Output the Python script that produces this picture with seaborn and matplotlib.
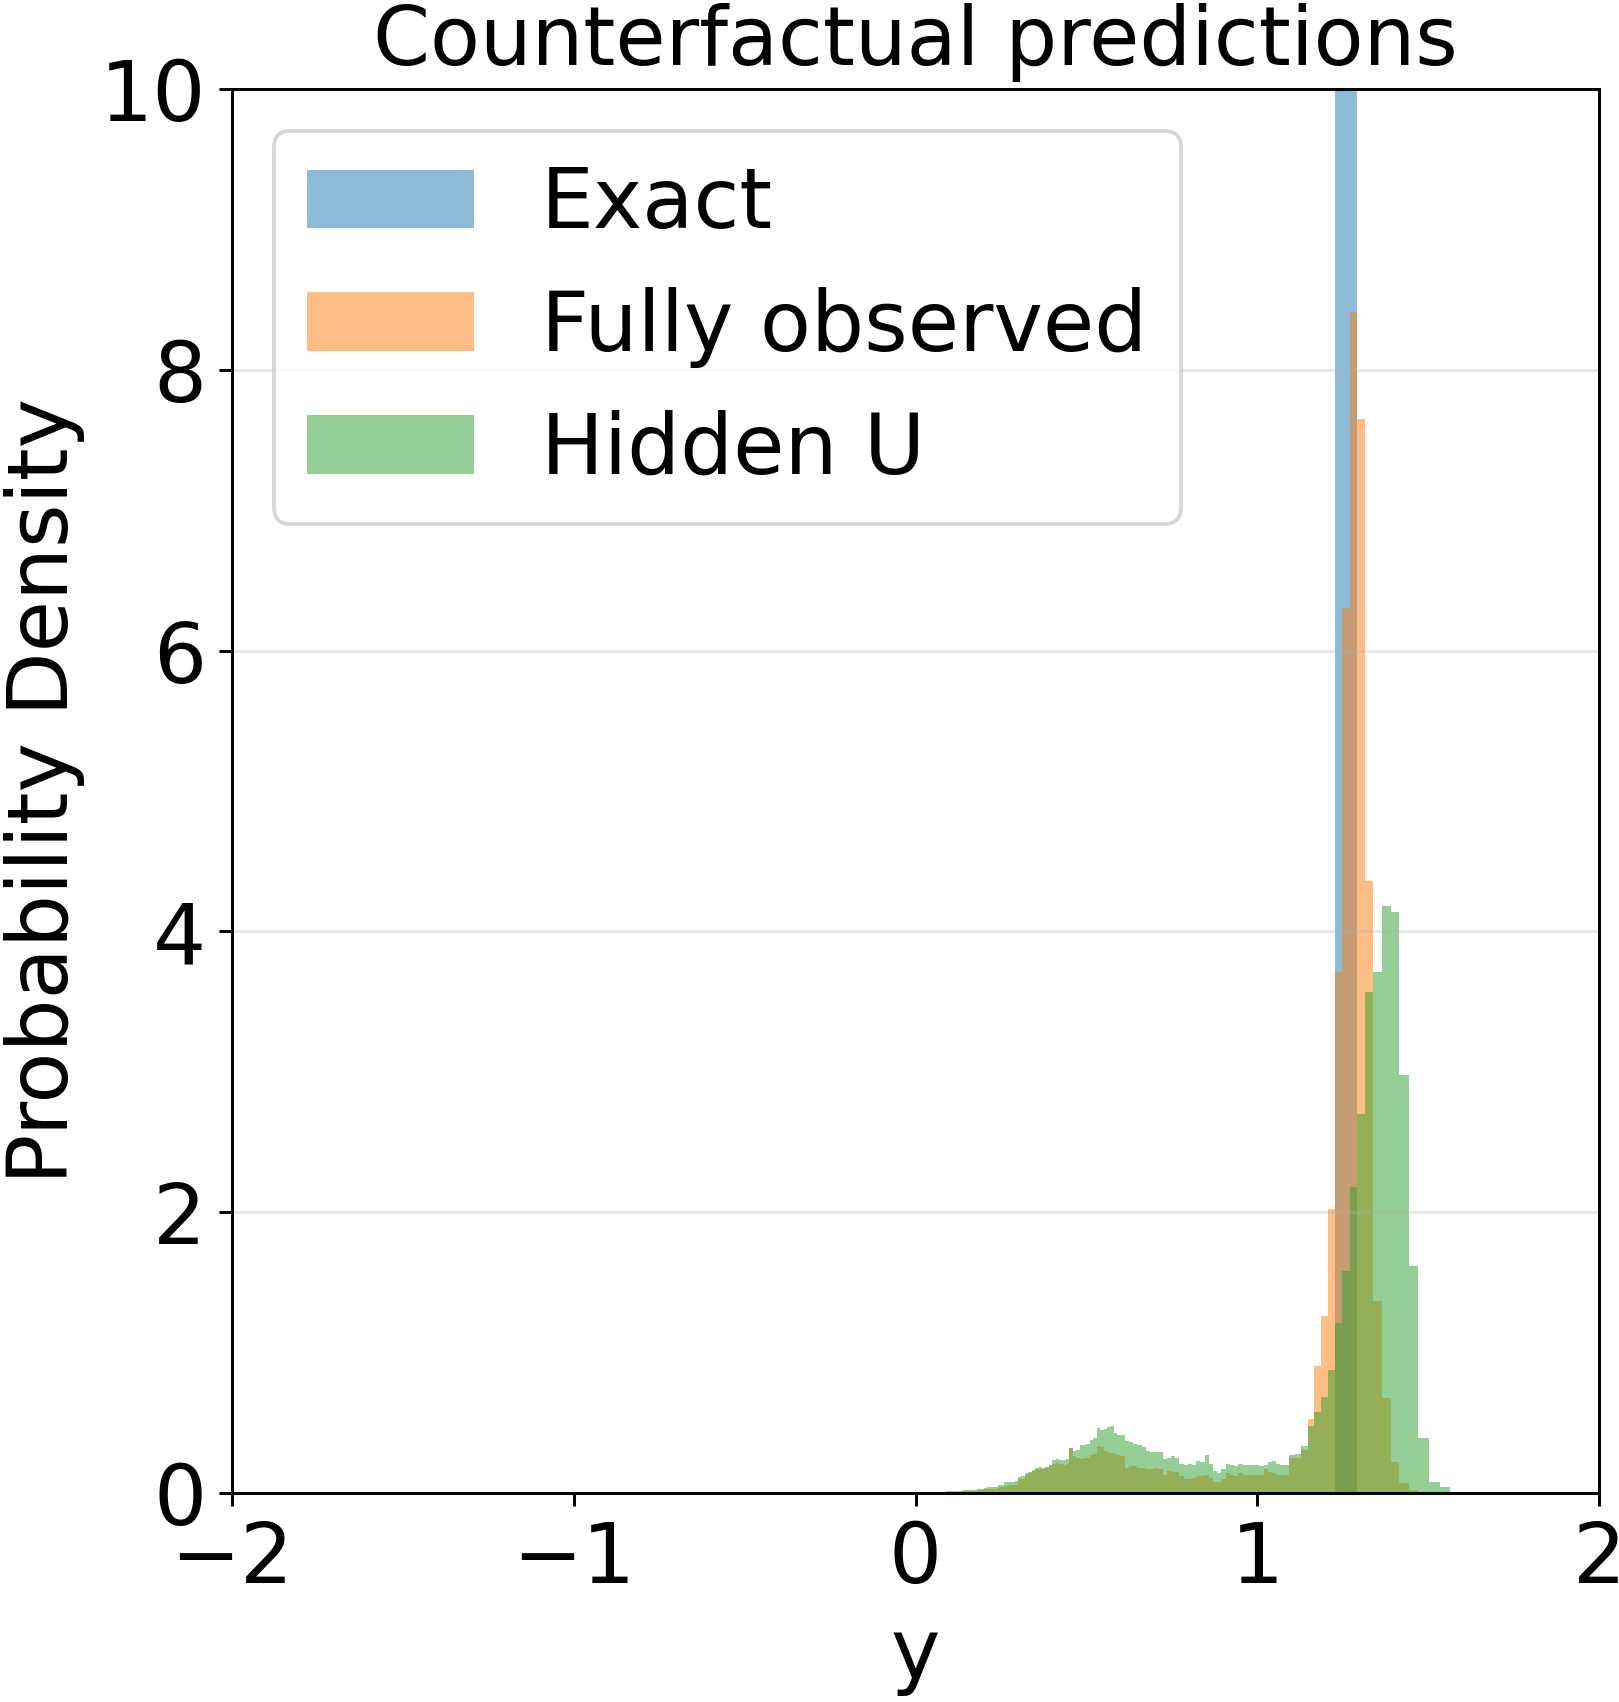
import numpy as np
import pandas as pd
import seaborn as sns
import matplotlib.pyplot as plt
from matplotlib.patches import Patch

# bin layout (narrow bins in the tail, wider bins around the peak)
tail_edges_a = np.linspace(0.0, 0.6, 61)
tail_edges_b = np.linspace(0.6, 1.092, 41)
peak_edges = [1.092, 1.110, 1.128, 1.148, 1.167, 1.187, 1.206, 1.226, 1.248,
              1.270, 1.292, 1.316, 1.339, 1.364, 1.390, 1.416, 1.444, 1.471,
              1.501, 1.534, 1.565, 1.592, 1.625]
edges = np.concatenate([tail_edges_a, tail_edges_b[1:], peak_edges[1:]])
centers = (edges[:-1] + edges[1:]) / 2

# density, one value per bin
hidden_u = [
    # 0.00 - 0.60
    0.002, 0.003, 0.003, 0.004, 0.005, 0.006, 0.008, 0.008, 0.010, 0.012,
    0.013, 0.014, 0.013, 0.016, 0.018, 0.020, 0.022, 0.021, 0.026, 0.028,
    0.035, 0.040, 0.045, 0.042, 0.057, 0.060, 0.075, 0.078, 0.080, 0.082,
    0.115, 0.118, 0.140, 0.150, 0.165, 0.180, 0.182, 0.178, 0.185, 0.200,
    0.235, 0.240, 0.235, 0.232, 0.245, 0.318, 0.300, 0.305, 0.340, 0.345,
    0.350, 0.380, 0.390, 0.460, 0.450, 0.455, 0.470, 0.480, 0.430, 0.410,
    # 0.60 - 1.092
    0.41, 0.37, 0.36, 0.35, 0.34, 0.33, 0.30, 0.29, 0.29, 0.29,
    0.24, 0.25, 0.26, 0.25, 0.21, 0.20, 0.21, 0.20, 0.23, 0.22,
    0.27, 0.21, 0.16, 0.14, 0.17, 0.21, 0.20, 0.19, 0.21, 0.20,
    0.20, 0.20, 0.20, 0.19, 0.20, 0.22, 0.23, 0.21, 0.20, 0.20,
    # 1.092 - 1.625
    0.27, 0.28, 0.335, 0.477, 0.577, 0.686, 0.876, 1.21, 1.58, 2.18, 2.70,
    3.57, 3.71, 4.18, 4.14, 2.98, 1.62, 0.39, 0.08, 0.04, 0.01, 0.0,
]

fully_observed = [
    # 0.00 - 0.60
    0.001, 0.002, 0.002, 0.003, 0.003, 0.004, 0.005, 0.005, 0.006, 0.008,
    0.009, 0.010, 0.009, 0.011, 0.012, 0.014, 0.015, 0.015, 0.018, 0.020,
    0.025, 0.028, 0.030, 0.032, 0.040, 0.045, 0.052, 0.055, 0.058, 0.060,
    0.100, 0.102, 0.125, 0.140, 0.160, 0.170, 0.172, 0.168, 0.175, 0.190,
    0.210, 0.215, 0.205, 0.200, 0.210, 0.318, 0.260, 0.250, 0.245, 0.250,
    0.252, 0.270, 0.280, 0.335, 0.330, 0.300, 0.290, 0.285, 0.275, 0.270,
    # 0.60 - 1.092
    0.26, 0.18, 0.19, 0.19, 0.18, 0.18, 0.17, 0.17, 0.18, 0.17,
    0.13, 0.16, 0.15, 0.15, 0.12, 0.10, 0.10, 0.11, 0.12, 0.12,
    0.13, 0.11, 0.08, 0.08, 0.10, 0.14, 0.13, 0.12, 0.14, 0.13,
    0.13, 0.13, 0.13, 0.13, 0.17, 0.15, 0.14, 0.13, 0.13, 0.13,
    # 1.092 - 1.625
    0.25, 0.25, 0.306, 0.525, 0.905, 1.26, 2.02, 3.71, 6.3, 8.41, 7.65,
    4.36, 1.37, 0.68, 0.22, 0.07, 0.02, 0.0, 0.0, 0.0, 0.0, 0.0,
]

exact_centers = [1.237, 1.259, 1.281]
exact = [12.0, 20.0, 13.5]

labels = ["Exact", "Fully observed", "Hidden U"]
colors = ["tab:blue", "tab:orange", "tab:green"]

df_exact = pd.DataFrame({"y": exact_centers, "w": exact})
df_full = pd.DataFrame({"y": centers, "w": fully_observed})
df_hidden = pd.DataFrame({"y": centers, "w": hidden_u})
bins = edges.tolist()

plt.rcParams['font.size'] = 22.6

fig, ax = plt.subplots(figsize=(1619 / 266, 1702 / 266), dpi=266)
fig.subplots_adjust(left=0.1433, right=0.9877, bottom=0.1228, top=0.9477)

for df, color in zip([df_exact, df_full, df_hidden], colors):
    sns.histplot(data=df, x="y", weights="w", bins=bins, stat="count",
                 color=color, alpha=0.5, linewidth=0, ax=ax)

ax.set_xlim(-2, 2)
ax.set_ylim(0, 10)
ax.set_xticks([-2, -1, 0, 1, 2])
ax.set_yticks([0, 2, 4, 6, 8, 10])
ax.grid(axis='y', alpha=0.3)
ax.set_title("Counterfactual predictions", fontsize=22.1, pad=6.5)
ax.set_xlabel("y")
ax.set_ylabel("Probability Density")

handles = [Patch(facecolor=c, alpha=0.5, label=l) for c, l in zip(colors, labels)]
ax.legend(handles=handles, loc="upper left")

plt.savefig("out.png")
